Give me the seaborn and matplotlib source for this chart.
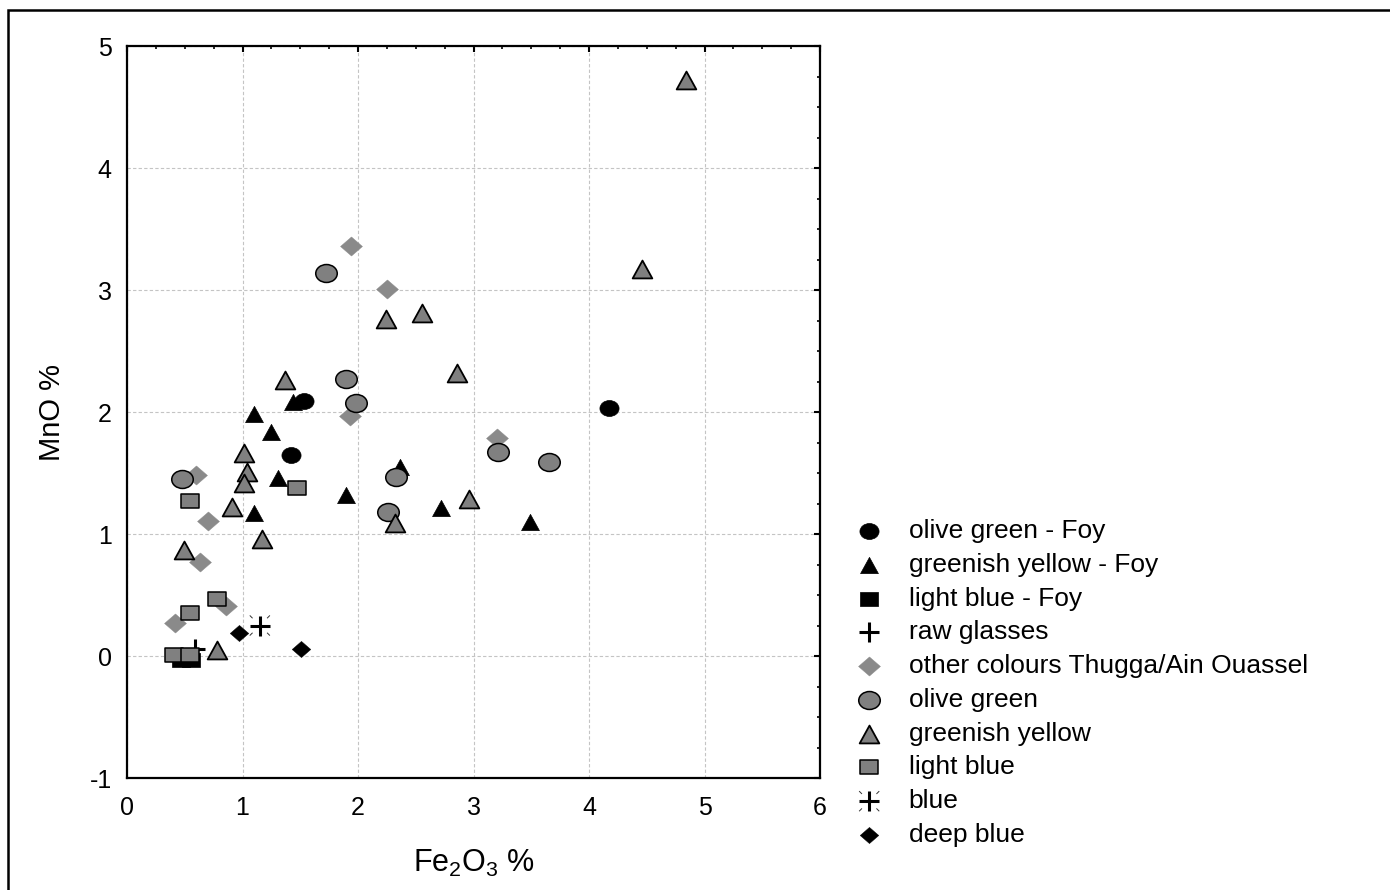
import numpy as np
import matplotlib
matplotlib.use("Agg")
import matplotlib.pyplot as plt
import seaborn as sns
from matplotlib.path import Path
from matplotlib.legend_handler import HandlerTuple
from matplotlib.patches import Rectangle
from matplotlib.ticker import MultipleLocator

# ---------------- data (Fe2O3 %, MnO %) ----------------
olive_foy_x = [1.53, 1.42, 4.17]
olive_foy_y = [2.09, 1.65, 2.03]

gy_foy_x = [1.10, 1.25, 1.44, 1.31, 1.10, 1.90, 2.36, 2.72, 3.49]
gy_foy_y = [1.98, 1.84, 2.08, 1.46, 1.17, 1.32, 1.55, 1.21, 1.10]

lb_foy_x = [0.47, 0.55]
lb_foy_y = [-0.03, -0.03]

raw_x = [0.59]
raw_y = [0.06]

other_x = [0.415, 0.86, 0.60, 0.70, 0.63, 1.93, 1.94, 2.25, 3.20]
other_y = [0.27, 0.41, 1.48, 1.11, 0.77, 1.97, 3.36, 3.01, 1.79]

olive_x = [0.48, 1.72, 1.90, 1.98, 2.33, 2.26, 3.21, 3.65]
olive_y = [1.45, 3.14, 2.27, 2.07, 1.47, 1.18, 1.67, 1.59]

gy_x = [4.84, 4.46, 2.24, 2.55, 2.86, 1.37, 1.01, 1.04, 1.01, 0.91, 1.17, 0.49, 0.78, 2.96, 2.32]
gy_y = [4.72, 3.17, 2.76, 2.81, 2.32, 2.26, 1.66, 1.51, 1.42, 1.22, 0.96, 0.87, 0.05, 1.29, 1.09]

lb_x = [0.41, 0.545, 0.545, 0.78, 0.545, 1.47]
lb_y = [0.01, 0.01, 0.35, 0.47, 1.27, 1.38]

blue_x = [1.15]
blue_y = [0.25]

deep_x = [0.97, 1.51]
deep_y = [0.19, 0.06]

labels = ["olive green - Foy", "greenish yellow - Foy", "light blue - Foy", "raw glasses",
          "other colours Thugga/Ain Ouassel", "olive green", "greenish yellow", "light blue",
          "blue", "deep blue"]

# ---------------- style ----------------
sns.set_theme(style="white")
plt.rcParams['font.family'] = ['Liberation Sans', 'DejaVu Sans']
plt.rcParams['mathtext.default'] = 'regular'
plt.rcParams['axes.unicode_minus'] = False
plt.rcParams['text.color'] = 'black'
plt.rcParams['axes.labelcolor'] = 'black'

M, L, C = Path.MOVETO, Path.LINETO, Path.CLOSEPOLY
uc = Path.unit_circle()
ELLIPSE = Path(uc.vertices * np.array([1.2, 1.0]), uc.codes)
TRI = Path([(0, 1), (-1.1, -1), (1.1, -1), (0, 1)], [M, L, L, C])
SQR = Path([(-1.2, -1), (1.2, -1), (1.2, 1), (-1.2, 1), (-1.2, -1)], [M, L, L, L, C])
DIA = Path([(0, 1), (1.15, 0), (0, -1), (-1.15, 0), (0, 1)], [M, L, L, L, C])
TICKS = Path([(0.72, 0.72), (1, 1), (-0.72, 0.72), (-1, 1),
              (0.72, -0.72), (1, -1), (-0.72, -0.72), (-1, -1)], [M, L] * 4)

GREY = "#808080"

fig = plt.figure(figsize=(13.9, 8.9), dpi=100)
ax = fig.add_axes([127 / 1390, 1 - 778 / 890, (820 - 127) / 1390, (778 - 46) / 890])
ax.set_axisbelow(True)

handles = []

def sc(x, y, **kw):
    sns.scatterplot(x=x, y=y, ax=ax, legend=False, **kw)
    return ax.collections[-1]

handles.append(sc(olive_foy_x, olive_foy_y, marker=ELLIPSE, s=190, color="black", edgecolor="black", linewidth=0.5))
handles.append(sc(gy_foy_x, gy_foy_y, marker=TRI, s=165, color="black", edgecolor="black", linewidth=0.5))
handles.append(sc(lb_foy_x, lb_foy_y, marker=SQR, s=150, color="black", edgecolor="black", linewidth=0.5))
handles.append(sc(raw_x, raw_y, marker="+", s=200, color="black", linewidth=2.2))
handles.append(sc(other_x, other_y, marker=DIA, s=250, color="#8a8a8a", edgecolor="#8a8a8a", linewidth=0.3))
handles.append(sc(olive_x, olive_y, marker=ELLIPSE, s=240, color=GREY, edgecolor="black", linewidth=1.1))
handles.append(sc(gy_x, gy_y, marker=TRI, s=200, color=GREY, edgecolor="black", linewidth=1.3))
handles.append(sc(lb_x, lb_y, marker=SQR, s=165, color=GREY, edgecolor="black", linewidth=1.1))
h_blue1 = sc(blue_x, blue_y, marker="+", s=200, color="black", linewidth=2.2)
h_blue2 = sc(blue_x, blue_y, marker=TICKS, s=210, facecolor="none", edgecolor="#333333", linewidth=0.7)
handles.append((h_blue1, h_blue2))
handles.append(sc(deep_x, deep_y, marker=DIA, s=180, color="black", edgecolor="black", linewidth=0.3))

# ---------------- axes ----------------
ax.set_xlim(0, 6)
ax.set_ylim(-1, 5)
ax.xaxis.set_major_locator(MultipleLocator(1))
ax.yaxis.set_major_locator(MultipleLocator(1))
ax.xaxis.set_minor_locator(MultipleLocator(0.25))
ax.yaxis.set_minor_locator(MultipleLocator(0.25))
ax.tick_params(which="both", direction="in", top=True, right=True, colors="black",
               labelsize=18, pad=11)
ax.tick_params(axis="x", which="major", pad=13)
ax.tick_params(which="major", length=4, width=1.5)
ax.tick_params(which="minor", length=2.5, width=1.2)
ax.tick_params(axis="x", labeltop=False)
ax.tick_params(axis="y", labelright=False)
ax.grid(True, which="major", color="#c4c4c4", linestyle=(0, (3, 2)), linewidth=0.8)
for sp in ax.spines.values():
    sp.set_color("black")
    sp.set_linewidth(1.6)

ax.set_xlabel("Fe$_2$O$_3$ %", fontsize=22, labelpad=20)
ax.set_ylabel("MnO %", fontsize=21, labelpad=17)

# ---------------- legend ----------------
fs = 19
fig.legend(handles, labels, loc="upper left", bbox_to_anchor=(856 / 1390, 1 - 519 / 890),
           frameon=False, fontsize=fs, handlelength=1.0, handletextpad=1.0,
           labelspacing=0.37, borderpad=0, borderaxespad=0, markerscale=1.0,
           scatterpoints=1, handler_map={tuple: HandlerTuple(ndivide=1)})

# ---------------- outer frame ----------------
fig.add_artist(Rectangle((8 / 1390, -0.5), 2, 0.5 + 1 - 9.5 / 890, transform=fig.transFigure,
                         fill=False, edgecolor="black", linewidth=1.8, clip_on=False))

fig.savefig("out.png", dpi=100)
